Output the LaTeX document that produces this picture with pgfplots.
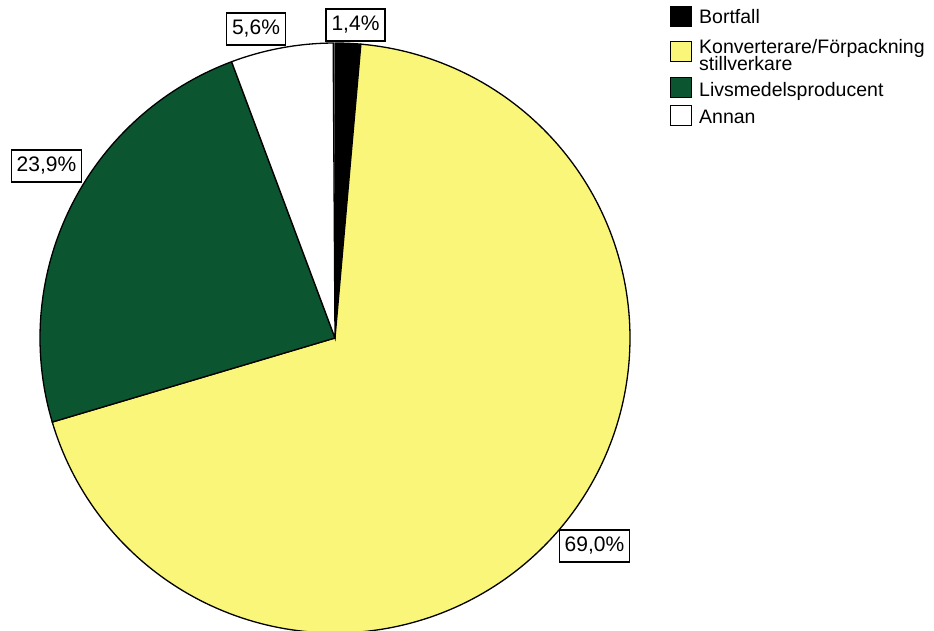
\documentclass[border=0pt]{standalone}
\usepackage{pgfplots}
\pgfplotsset{compat=1.18}
\usepackage{pgfplotstable}
\usepackage{fontspec}
\setmainfont{Liberation Sans}
\definecolor{pyellow}{RGB}{250,246,122}
\definecolor{pgreen}{RGB}{11,85,48}

\pgfplotstableread{
label value
Bortfall 1.4
Konverterare 69.0
Livsmedel 23.9
Annan 5.6
}\piedata

\begin{document}
\begin{tikzpicture}
\pgfplotstablegetelem{0}{value}\of\piedata \let\va\pgfplotsretval
\pgfplotstablegetelem{1}{value}\of\piedata \let\vb\pgfplotsretval
\pgfplotstablegetelem{2}{value}\of\piedata \let\vc\pgfplotsretval
\pgfplotstablegetelem{3}{value}\of\piedata \let\vd\pgfplotsretval
\pgfmathsetmacro{\aA}{90}
\pgfmathsetmacro{\aB}{90-3.6*\va}
\pgfmathsetmacro{\aC}{\aB-3.6*\vb}
\pgfmathsetmacro{\aD}{\aC-3.6*\vc}
\pgfmathsetmacro{\aE}{\aD-3.6*\vd}
\begin{axis}[scale only axis, width=934pt, height=630pt,
  xmin=0, xmax=934, ymin=0, ymax=630, hide axis]
\path (axis cs:0,0) rectangle (axis cs:934,630);
\addplot[draw=black, line width=1.3pt, fill=black, domain=\aB:\aA, samples=10, variable=\t]
  ({335+295*cos(\t)},{292+295*sin(\t)}) -- (axis cs:335,292) -- cycle;
\addplot[draw=black, line width=1.3pt, fill=pyellow, domain=\aC:\aB, samples=200, variable=\t]
  ({335+295*cos(\t)},{292+295*sin(\t)}) -- (axis cs:335,292) -- cycle;
\addplot[draw=black, line width=1.3pt, fill=pgreen, domain=\aD:\aC, samples=80, variable=\t]
  ({335+295*cos(\t)},{292+295*sin(\t)}) -- (axis cs:335,292) -- cycle;
\addplot[draw=black, line width=1.3pt, fill=white, domain=\aE:\aD, samples=30, variable=\t]
  ({335+295*cos(\t)},{292+295*sin(\t)}) -- (axis cs:335,292) -- cycle;

\tikzset{lab/.style={draw=black, line width=1.2pt, fill=white,
  font=\fontsize{21}{24}\selectfont, inner xsep=5.5pt, inner ysep=0pt,
  minimum height=32pt, text height=15.5pt, text depth=4pt}}
\node[lab] at (axis cs:355.5,605) {1,4\%};
\node[lab] at (axis cs:256,601) {5,6\%};
\node[lab] at (axis cs:46.5,464) {23,9\%};
\node[lab] at (axis cs:594.5,84) {69,0\%};

\tikzset{leg/.style={anchor=base west, inner sep=0pt, font=\fontsize{19.5}{17}\selectfont}}
\draw[fill=black, line width=1pt] (axis cs:670,603) rectangle (axis cs:691,623);
\draw[fill=pyellow, line width=1pt] (axis cs:670,568) rectangle (axis cs:691,588);
\draw[fill=pgreen, line width=1pt] (axis cs:670,532) rectangle (axis cs:691,552);
\draw[fill=white, line width=1pt] (axis cs:670,504) rectangle (axis cs:691,524);
\node[leg] at (axis cs:699,606) {Bortfall};
\node[leg] at (axis cs:699,576.5) {Konverterare/Förpackning};
\node[leg] at (axis cs:699,559) {stillverkare};
\node[leg] at (axis cs:699,533) {Livsmedelsproducent};
\node[leg] at (axis cs:699,506) {Annan};
\end{axis}
\end{tikzpicture}
\end{document}
